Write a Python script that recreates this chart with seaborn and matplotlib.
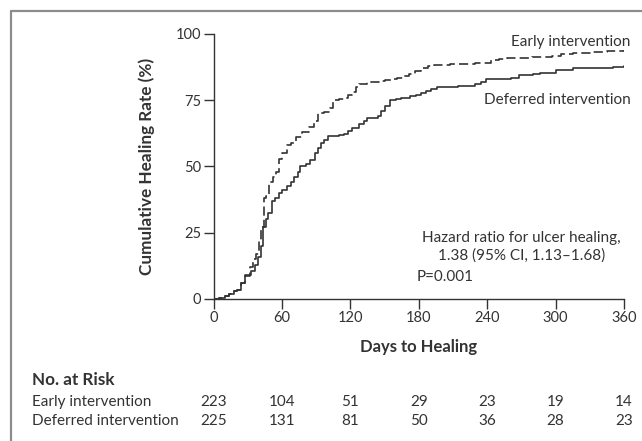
import pandas as pd
import matplotlib.pyplot as plt
import matplotlib.transforms as mtransforms
from matplotlib.lines import Line2D
import seaborn as sns

sns.set_style('ticks')
plt.rcParams['font.family'] = ['Lato', 'DejaVu Sans']

# cumulative healing curves
early_days = [0, 5, 10, 14, 18, 21, 24, 28, 32, 35, 37, 40, 42, 44, 46, 49, 52, 55, 57, 60,
              64, 68, 72, 78, 84, 88, 92, 97, 102, 105, 110, 114, 118, 121, 125, 128, 135, 145,
              150, 156, 161, 166, 171, 177, 182, 188, 193, 207, 218, 229, 243, 250, 257, 279,
              290, 297, 305, 315, 333, 345, 360]
early_pct = [0, 0.5, 1, 2, 3, 3.5, 6, 8.5, 12, 15, 17, 22, 27, 38, 39, 44, 46, 48, 53, 55,
             58, 59, 61, 63, 65, 67, 70, 70.5, 72, 75, 75.5, 76, 77, 78, 80, 81, 82, 82.3,
             82.7, 83, 83.5, 84, 85, 86, 87, 88, 88.3, 88.5, 88.8, 89, 90, 90.5, 91, 91.2,
             91.4, 91.7, 92.5, 93, 93.2, 93.6, 94]

deferred_days = [0, 5, 10, 14, 18, 21, 24, 28, 33, 36, 39, 42, 43, 46, 48, 51, 54, 57, 60, 64,
                 68, 71, 74, 76, 81, 85, 89, 92, 94, 97, 100, 110, 114, 118, 121, 128, 132, 135,
                 144, 147, 150, 155, 160, 164, 172, 178, 182, 186, 191, 196, 214, 229, 235, 239,
                 261, 268, 280, 286, 300, 315, 336, 350, 360]
deferred_pct = [0, 0.4, 1, 2, 3, 3.5, 6, 9, 10.5, 13, 16, 20, 27, 30, 32.5, 37, 38, 40, 41, 42.5,
                44, 46, 48, 50, 51, 52.6, 55, 57, 59, 60, 61.5, 62, 62.3, 63.5, 64.6, 66, 67, 68.4,
                69, 71, 73, 75, 75.5, 76, 76.5, 77, 77.7, 78.5, 79.3, 80, 80.4, 81, 82, 83,
                83.3, 84.4, 85, 85.4, 86.4, 87, 87.3, 87.7, 88]

# numbers at risk
risk_days = [0, 60, 120, 180, 240, 300, 360]
early_risk = [223, 104, 51, 29, 23, 19, 14]
deferred_risk = [225, 131, 81, 50, 36, 28, 23]

groups = ['Early intervention', 'Deferred intervention']

df = pd.concat([
    pd.DataFrame({'day': early_days, 'pct': early_pct, 'group': groups[0]}),
    pd.DataFrame({'day': deferred_days, 'pct': deferred_pct, 'group': groups[1]}),
])

ink = '#333333'
fig = plt.figure(figsize=(6.42, 4.41), dpi=100)
ax = fig.add_axes([0.3326, 0.322, 0.6394, 0.601])

sns.lineplot(data=df, x='day', y='pct', hue='group', style='group',
             palette={groups[0]: ink, groups[1]: ink},
             dashes={groups[0]: (5.5, 2.5), groups[1]: ''},
             drawstyle='steps-post', estimator=None, linewidth=1.2,
             legend=False, ax=ax)

ax.set_xlim(0, 360)
ax.set_ylim(0, 100)
ax.set_xticks(risk_days)
ax.set_yticks([0, 25, 50, 75, 100])
sns.despine(ax=ax)
for s in ['left', 'bottom']:
    ax.spines[s].set_color(ink)
    ax.spines[s].set_linewidth(1.0)
ax.tick_params(direction='out', length=7, width=1.0, color=ink,
               labelcolor=ink, labelsize=10.5, pad=2)

ax.set_xlabel('Days to Healing', fontsize=12, fontweight='bold', color=ink, labelpad=10)
ax.set_ylabel('Cumulative Healing Rate (%)', fontsize=12.3, fontweight='bold', color=ink)
ax.yaxis.set_label_coords(-0.143, 0.5)

# curve labels and hazard ratio
ax.text(366, 97, 'Early intervention', ha='right', va='center', fontsize=11,
        color=ink, clip_on=False)
ax.text(366, 75, 'Deferred intervention', ha='right', va='center', fontsize=11,
        color=ink, clip_on=False)
ax.text(270, 19.6, 'Hazard ratio for ulcer healing,\n1.38 (95% CI, 1.13\u20131.68)',
        ha='center', va='center', multialignment='center', fontsize=11,
        color=ink, linespacing=1.35)
ax.text(178, 8.4, 'P=0.001', ha='left', va='center', fontsize=11, color=ink)

# numbers at risk table
fig.text(32 / 642, 1 - 380 / 441, 'No. at Risk', ha='left', va='center',
         fontsize=12.3, fontweight='bold', color=ink)
trans = mtransforms.blended_transform_factory(ax.transData, fig.transFigure)
for name, counts, ypix in [(groups[0], early_risk, 402), (groups[1], deferred_risk, 421)]:
    yf = 1 - ypix / 441
    fig.text(32 / 642, yf, name, ha='left', va='center', fontsize=11, color=ink)
    for d, n in zip(risk_days, counts):
        ax.text(d, yf, str(n), ha='center', va='center', fontsize=11, color=ink,
                transform=trans, clip_on=False)

# grey frame on top and left
fig.add_artist(Line2D([11 / 642, 11 / 642], [0, 1 - 11 / 441], color='#8c8c8c', lw=1.6,
                      transform=fig.transFigure))
fig.add_artist(Line2D([11 / 642, 1], [1 - 11 / 441, 1 - 11 / 441], color='#8c8c8c', lw=1.6,
                      transform=fig.transFigure))

fig.savefig('out.png', dpi=100, facecolor='white')
